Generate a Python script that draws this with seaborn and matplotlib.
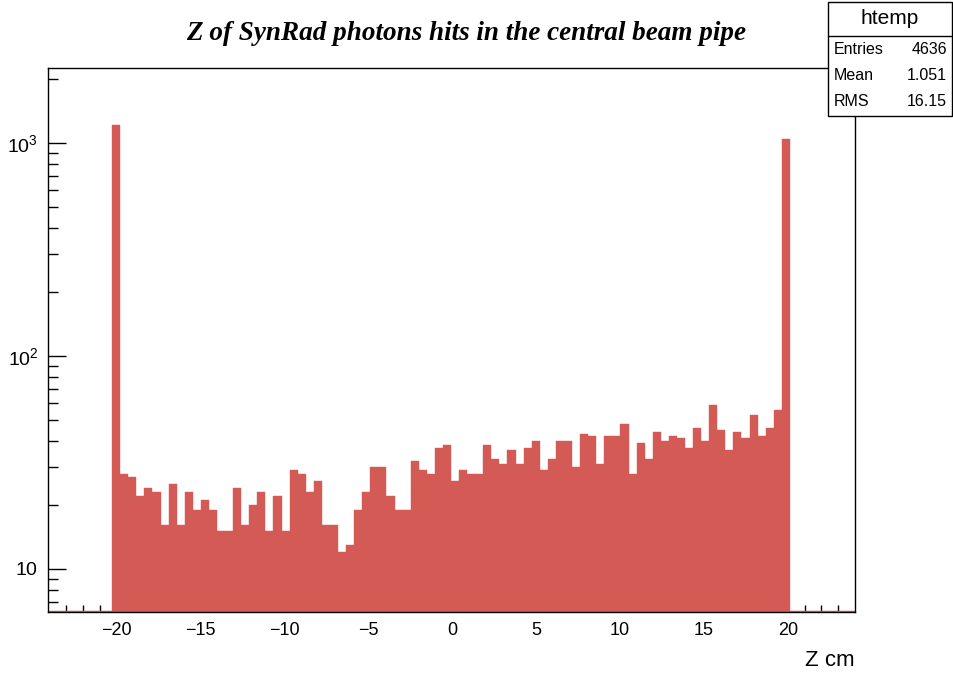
import numpy as np
import pandas as pd
import matplotlib
matplotlib.use("Agg")
import matplotlib.pyplot as plt
from matplotlib.patches import Rectangle
from matplotlib.lines import Line2D
from matplotlib.ticker import FixedLocator, FixedFormatter, NullFormatter
import seaborn as sns

# Histogram of Z positions (cm) of synchrotron-radiation photon hits
z_low, z_high, n_bins = -20.28, 20.12, 84
counts = [
    1220, 28, 27, 22, 24, 23, 16, 25, 16, 23, 19, 21, 19, 15, 15, 24, 16, 20,
    23, 15, 22, 15, 29, 28, 23, 26, 16, 16,
    12, 13, 19, 23, 30, 30, 22, 19, 19, 32, 29, 28, 37, 38, 26, 29, 28, 28,
    38, 33, 31, 36, 31, 37, 40, 29, 33, 40,
    40, 30, 43, 42, 31, 42, 42, 48, 28, 39, 33, 44, 40, 42, 41, 37, 46, 40,
    59, 45, 36, 44, 41, 53, 42, 46, 56, 1040,
]
x_range = (-24.1, 24.0)
y_range = (6.28, 2250)
x_major = [-20, -15, -10, -5, 0, 5, 10, 15, 20]
x_major_labels = ["\u221220", "\u221215", "\u221210", "\u22125", "0", "5", "10", "15", "20"]
y_major = [10, 100, 1000]
y_major_labels = ["$10$", "$10^{2}$", "$10^{3}$"]

title = "Z of SynRad photons hits in the central beam pipe"
x_title = "Z cm"
stats_name = "htemp"
stats_rows = [("Entries", "4636"), ("Mean", "1.051"), ("RMS", "16.15")]

bar_color = "#d45a56"

sns.set_style("ticks")
plt.rcParams["font.family"] = ["Liberation Sans", "DejaVu Sans"]
plt.rcParams["mathtext.fontset"] = "custom"
plt.rcParams["mathtext.rm"] = "Liberation Sans"
plt.rcParams["mathtext.it"] = "Liberation Sans"
plt.rcParams["text.color"] = "black"
plt.rcParams["xtick.color"] = "black"
plt.rcParams["ytick.color"] = "black"
plt.rcParams["xtick.labelcolor"] = "black"
plt.rcParams["ytick.labelcolor"] = "black"

W, H = 954, 676
fig = plt.figure(figsize=(W / 100, H / 100), dpi=100)
ax = fig.add_axes([48 / W, 1 - 612 / H, (855 - 48) / W, (612 - 68) / H])

edges = np.linspace(z_low, z_high, n_bins + 1)
hist_df = pd.DataFrame({"z": 0.5 * (edges[:-1] + edges[1:]), "n": counts})
sns.histplot(data=hist_df, x="z", weights="n", bins=list(edges), ax=ax,
             color=bar_color, alpha=1.0, edgecolor=bar_color, linewidth=0.3)
ax.set_yscale("log")
ax.set_xlim(*x_range)
ax.set_ylim(*y_range)

# empty bins sit on the lower edge of the frame
ax.axhline(y_range[0], color=bar_color, linewidth=2.5, zorder=1)

for side in ["left", "right", "top", "bottom"]:
    ax.spines[side].set_visible(True)
    ax.spines[side].set_linewidth(1.0)
    ax.spines[side].set_color("black")
    ax.spines[side].set_zorder(5)

ax.xaxis.set_major_locator(FixedLocator(x_major))
ax.xaxis.set_major_formatter(FixedFormatter(x_major_labels))
ax.xaxis.set_minor_locator(FixedLocator([v for v in range(-23, 24) if v % 5 != 0]))
ax.yaxis.set_major_locator(FixedLocator(y_major))
ax.yaxis.set_major_formatter(FixedFormatter(y_major_labels))
y_minor = [m * d for d in (1, 10, 100, 1000) for m in range(2, 10)]
ax.yaxis.set_minor_locator(FixedLocator(y_minor))
ax.yaxis.set_minor_formatter(NullFormatter())

ax.tick_params(axis="x", which="major", direction="in", length=10, width=1.0,
               labelsize=13, pad=7, top=False)
ax.tick_params(axis="x", which="minor", direction="in", length=5, width=1.0, top=False)
ax.tick_params(axis="y", which="major", direction="in", length=13, width=1.0,
               labelsize=14, pad=7, right=False)
ax.tick_params(axis="y", which="minor", direction="in", length=7, width=1.0, right=False)

ax.set_xlabel("")
ax.set_ylabel("")
ax.grid(False)

fig.text(855 / W, 1 - 660 / H, x_title, ha="right", va="center", fontsize=16)

fig.text(466 / W, 1 - 33 / H, title, ha="center", va="center", fontsize=19.5,
         family="Liberation Serif", fontweight="bold", fontstyle="italic")

# statistics box
bx0, bx1, by0, by1 = 828, 952, 2, 116
fig.add_artist(Rectangle((bx0 / W, 1 - by1 / H), (bx1 - bx0) / W, (by1 - by0) / H,
                         transform=fig.transFigure, facecolor="white",
                         edgecolor="black", linewidth=1.0, zorder=10))
fig.add_artist(Line2D([bx0 / W, bx1 / W], [1 - 36 / H, 1 - 36 / H],
                      transform=fig.transFigure, color="black", linewidth=1.0, zorder=11))
fig.text((bx0 + bx1) / 2 / W, 1 - 19 / H, stats_name, ha="center", va="center",
         fontsize=15, zorder=12)
for i, (name, val) in enumerate(stats_rows):
    yy = 1 - (49 + 26 * i) / H
    fig.text(834 / W, yy, name, ha="left", va="center", fontsize=11.5, zorder=12)
    fig.text(947 / W, yy, val, ha="right", va="center", fontsize=11.5, zorder=12)

fig.savefig("out.png", dpi=100, facecolor="white")
